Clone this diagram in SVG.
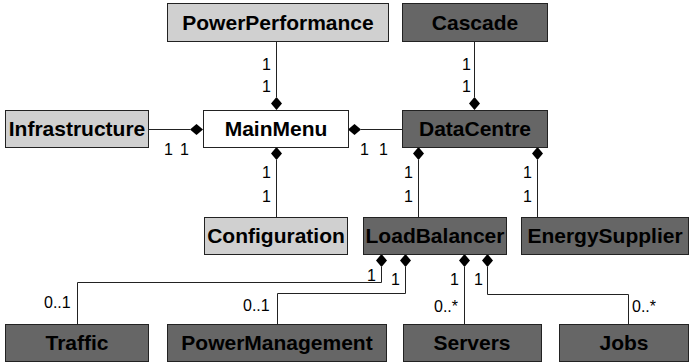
<svg xmlns="http://www.w3.org/2000/svg" width="690" height="364" viewBox="0 0 690 364">
<style>
.box rect{stroke:#222;stroke-width:1}
.lt rect{fill:#d0d0d0}
.dk rect{fill:#666666}
.wh rect{fill:#ffffff}
.box text{font-family:"Liberation Sans",Arial,sans-serif;font-weight:bold;font-size:21px;text-anchor:middle;fill:#000}
.conn path{fill:none;stroke:#222;stroke-width:1}
.conn .d{fill:#000;stroke:none}
.lbl{font-family:"Liberation Sans",Arial,sans-serif;font-size:16px;fill:#000}
.e{text-anchor:end}
</style>
<g id="connectors" class="conn">
  <path d="M276.5 41 V97"/>
  <polygon class="d" points="276.5,97 282,103.5 276.5,110 271,103.5"/>
  <path d="M474.5 41 V97"/>
  <polygon class="d" points="474.5,97 480,103.5 474.5,110 469,103.5"/>
  <path d="M148 129.5 H190"/>
  <polygon class="d" points="190,129.5 196.5,124 203,129.5 196.5,135"/>
  <path d="M361 129.5 H402"/>
  <polygon class="d" points="348,129.5 354.5,124 361,129.5 354.5,135"/>
  <path d="M276.5 160 V217"/>
  <polygon class="d" points="276.5,147 282,153.5 276.5,160 271,153.5"/>
  <path d="M418.5 160 V217"/>
  <polygon class="d" points="418.5,147 424,153.5 418.5,160 413,153.5"/>
  <path d="M537.5 160 V217"/>
  <polygon class="d" points="537.5,147 543,153.5 537.5,160 532,153.5"/>
  <path d="M381.5 267 V282.5 H77.5 V324"/>
  <polygon class="d" points="381.5,254 387,260.5 381.5,267 376,260.5"/>
  <path d="M405.5 267 V293.5 H277.5 V324"/>
  <polygon class="d" points="405.5,254 411,260.5 405.5,267 400,260.5"/>
  <path d="M464.5 267 V324"/>
  <polygon class="d" points="464.5,254 470,260.5 464.5,267 459,260.5"/>
  <path d="M487.5 267 V294.5 H628.5 V324"/>
  <polygon class="d" points="487.5,254 493,260.5 487.5,267 482,260.5"/>
</g>
<g id="labels" class="lbl">
  <text class="e" x="271" y="70">1</text>
  <text class="e" x="271" y="92">1</text>
  <text class="e" x="471" y="70">1</text>
  <text class="e" x="471" y="92">1</text>
  <text x="164" y="155">1</text>
  <text x="180" y="155">1</text>
  <text x="360" y="155">1</text>
  <text x="379" y="155">1</text>
  <text class="e" x="271" y="178">1</text>
  <text class="e" x="271" y="202">1</text>
  <text class="e" x="413" y="178">1</text>
  <text class="e" x="413" y="202">1</text>
  <text class="e" x="532" y="178">1</text>
  <text class="e" x="532" y="202">1</text>
  <text class="e" x="376" y="281">1</text>
  <text x="391" y="285">1</text>
  <text class="e" x="459" y="285">1</text>
  <text x="474" y="285">1</text>
  <text x="44" y="308">0..1</text>
  <text x="243" y="311">0..1</text>
  <text x="434" y="312">0..*</text>
  <text x="632" y="312">0..*</text>
</g>
<g id="PowerPerformance" class="box lt"><rect x="167.5" y="3.5" width="221" height="38"/><text x="278" y="30">PowerPerformance</text></g>
<g id="Cascade" class="box dk"><rect x="402.5" y="3.5" width="145" height="38"/><text x="475" y="30">Cascade</text></g>
<g id="Infrastructure" class="box lt"><rect x="5.5" y="110.5" width="143" height="37"/><text x="77" y="136">Infrastructure</text></g>
<g id="MainMenu" class="box wh"><rect x="203.5" y="110.5" width="145" height="37"/><text x="276" y="136">MainMenu</text></g>
<g id="DataCentre" class="box dk"><rect x="402.5" y="110.5" width="145" height="37"/><text x="475" y="136">DataCentre</text></g>
<g id="Configuration" class="box lt"><rect x="204.5" y="217.5" width="143" height="37"/><text x="276" y="243">Configuration</text></g>
<g id="LoadBalancer" class="box dk"><rect x="363.5" y="217.5" width="143" height="37"/><text x="435" y="243">LoadBalancer</text></g>
<g id="EnergySupplier" class="box dk"><rect x="521.5" y="217.5" width="167" height="37"/><text x="605" y="243">EnergySupplier</text></g>
<g id="Traffic" class="box dk"><rect x="5.5" y="324.5" width="143" height="37"/><text x="77" y="350">Traffic</text></g>
<g id="PowerManagement" class="box dk"><rect x="167.5" y="324.5" width="219" height="37"/><text x="277" y="350">PowerManagement</text></g>
<g id="Servers" class="box dk"><rect x="403.5" y="324.5" width="138" height="37"/><text x="472" y="350">Servers</text></g>
<g id="Jobs" class="box dk"><rect x="559.5" y="324.5" width="129" height="37"/><text x="624" y="350">Jobs</text></g>
</svg>
